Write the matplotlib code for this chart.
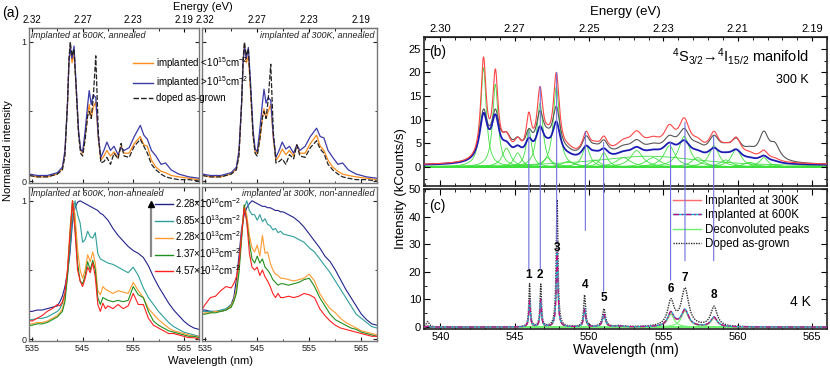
import numpy as np
import matplotlib.pyplot as plt
from matplotlib.lines import Line2D
from matplotlib.patches import ConnectionPatch
from matplotlib.ticker import MultipleLocator, FixedLocator
from matplotlib.legend_handler import HandlerTuple

plt.rcParams['font.family'] = ['Liberation Sans', 'DejaVu Sans']
plt.rcParams['mathtext.fontset'] = 'custom'
plt.rcParams['mathtext.rm'] = 'Liberation Sans'
plt.rcParams['mathtext.it'] = 'Liberation Sans:italic'
plt.rcParams['mathtext.bf'] = 'Liberation Sans:bold'
plt.rcParams['xtick.direction'] = 'in'
plt.rcParams['ytick.direction'] = 'in'

# ---------------- panel (a) data ----------------
wl_ann = [534.5, 536, 538, 540, 541, 541.5, 542, 542.3, 542.55, 542.9, 543.3, 543.7, 544.2, 544.6,
          545.0, 545.5, 546.0, 546.3, 546.7, 547.1, 547.6, 548.1, 548.6, 549.2, 549.8, 550.5, 551.2,
          552.0, 552.6, 553.2, 554.2, 555.2, 556.4, 557.1, 557.8, 558.6, 559.5, 560.5, 561.4, 562.5,
          564, 566, 568]
tl_low = [0.04, 0.03, 0.03, 0.05, 0.09, 0.2, 0.55, 0.85, 0.97, 0.85, 0.92, 0.68, 0.35, 0.22,
          0.2, 0.32, 0.48, 0.55, 0.45, 0.53, 0.57, 0.3, 0.15, 0.18, 0.22, 0.18, 0.21,
          0.17, 0.25, 0.2, 0.2, 0.27, 0.32, 0.26, 0.25, 0.15, 0.1, 0.07, 0.06, 0.04,
          0.03, 0.02, 0.01]
tl_high = [0.05, 0.04, 0.04, 0.06, 0.1, 0.22, 0.55, 0.85, 0.96, 0.88, 0.97, 0.7, 0.36, 0.23,
           0.21, 0.36, 0.55, 0.65, 0.55, 0.62, 0.6, 0.32, 0.17, 0.22, 0.28, 0.22, 0.25,
           0.19, 0.24, 0.22, 0.24, 0.32, 0.4, 0.33, 0.3, 0.22, 0.18, 0.12, 0.13, 0.08,
           0.05, 0.03, 0.02]
tl_doped = [0.04, 0.03, 0.03, 0.05, 0.08, 0.18, 0.55, 0.88, 1.0, 0.9, 0.95, 0.68, 0.33, 0.2,
            0.18, 0.3, 0.47, 0.5, 0.45, 0.6, 0.9, 0.35, 0.13, 0.14, 0.17, 0.12, 0.2,
            0.16, 0.27, 0.18, 0.17, 0.25, 0.3, 0.25, 0.2, 0.12, 0.08, 0.05, 0.03, 0.02,
            0.01, 0.01, 0.0]
tr_low = [0.04, 0.03, 0.03, 0.05, 0.09, 0.2, 0.55, 0.86, 0.98, 0.85, 0.9, 0.66, 0.33, 0.21,
          0.2, 0.3, 0.45, 0.52, 0.45, 0.5, 0.55, 0.3, 0.15, 0.18, 0.23, 0.19, 0.22,
          0.18, 0.26, 0.2, 0.2, 0.27, 0.33, 0.25, 0.22, 0.15, 0.1, 0.07, 0.05, 0.04,
          0.03, 0.02, 0.01]
tr_high = [0.05, 0.04, 0.04, 0.06, 0.1, 0.22, 0.56, 0.86, 0.97, 0.88, 0.96, 0.72, 0.37, 0.23,
           0.21, 0.37, 0.56, 0.66, 0.56, 0.6, 0.58, 0.32, 0.17, 0.22, 0.28, 0.23, 0.25,
           0.2, 0.26, 0.22, 0.25, 0.32, 0.38, 0.32, 0.31, 0.22, 0.17, 0.12, 0.13, 0.08,
           0.05, 0.03, 0.02]
tr_doped = [0.04, 0.03, 0.03, 0.05, 0.08, 0.18, 0.55, 0.88, 1.0, 0.9, 0.95, 0.68, 0.33, 0.2,
            0.18, 0.3, 0.46, 0.5, 0.45, 0.58, 0.84, 0.35, 0.13, 0.14, 0.16, 0.12, 0.19,
            0.16, 0.26, 0.18, 0.17, 0.24, 0.29, 0.23, 0.2, 0.12, 0.08, 0.05, 0.03, 0.02,
            0.01, 0.01, 0.0]

wl_na = [534.2, 535, 536, 537, 538, 539, 540, 540.5, 541, 541.5, 542, 542.5, 543, 543.5, 544,
         544.5, 545, 545.5, 546, 546.5, 547, 547.5, 548, 548.5, 549, 549.5, 550, 551, 552, 553,
         554, 555, 556, 557, 558, 559, 560, 561, 562, 563, 564, 565, 566, 567, 568]
bl_d1 = [0.2, 0.2, 0.21, 0.21, 0.22, 0.23, 0.24, 0.27, 0.31, 0.38, 0.48, 0.62, 0.85, 0.95, 0.99,
         1.0, 0.99, 0.98, 0.97, 0.96, 0.95, 0.94, 0.93, 0.91, 0.9, 0.88, 0.86, 0.8, 0.75, 0.71,
         0.67, 0.64, 0.62, 0.59, 0.53, 0.45, 0.38, 0.32, 0.26, 0.21, 0.17, 0.13, 0.1, 0.08, 0.07]
bl_d2 = [0.14, 0.14, 0.15, 0.15, 0.16, 0.18, 0.2, 0.22, 0.26, 0.33, 0.45, 0.65, 0.9, 1.0, 0.9,
         0.84, 0.7, 0.72, 0.78, 0.74, 0.73, 0.77, 0.62, 0.58, 0.57, 0.56, 0.55, 0.54, 0.52, 0.5,
         0.48, 0.52, 0.46, 0.37, 0.3, 0.25, 0.2, 0.16, 0.12, 0.09, 0.07, 0.05, 0.04, 0.03, 0.02]
bl_d3 = [0.11, 0.11, 0.12, 0.12, 0.13, 0.15, 0.17, 0.19, 0.22, 0.3, 0.5, 0.8, 1.0, 0.9, 0.65,
         0.5, 0.44, 0.5, 0.61, 0.56, 0.63, 0.55, 0.35, 0.32, 0.38, 0.36, 0.35, 0.33, 0.35, 0.34,
         0.33, 0.41, 0.35, 0.3, 0.22, 0.18, 0.14, 0.11, 0.08, 0.06, 0.05, 0.04, 0.03, 0.02, 0.02]
bl_d4 = [0.1, 0.1, 0.11, 0.11, 0.12, 0.14, 0.16, 0.18, 0.2, 0.27, 0.45, 0.75, 1.0, 0.8, 0.55,
         0.42, 0.4, 0.46, 0.56, 0.5, 0.57, 0.5, 0.3, 0.25, 0.3, 0.29, 0.28, 0.27, 0.28, 0.27,
         0.28, 0.38, 0.32, 0.3, 0.2, 0.13, 0.1, 0.08, 0.06, 0.05, 0.04, 0.03, 0.02, 0.02, 0.01]
bl_d5 = [0.14, 0.13, 0.15, 0.17, 0.2, 0.22, 0.25, 0.24, 0.27, 0.33, 0.5, 0.75, 1.0, 0.78, 0.5,
         0.42, 0.38, 0.44, 0.52, 0.48, 0.55, 0.45, 0.25, 0.2, 0.26, 0.22, 0.24, 0.22, 0.25, 0.22,
         0.24, 0.33, 0.25, 0.25, 0.15, 0.1, 0.08, 0.06, 0.04, 0.04, 0.03, 0.02, 0.01, 0.01, 0.0]
br_d1 = [0.21, 0.21, 0.2, 0.2, 0.2, 0.21, 0.25, 0.3, 0.43, 0.6, 0.8, 0.9, 0.95, 0.98, 1.0,
         0.99, 0.98, 0.97, 0.96, 0.96, 0.95, 0.95, 0.94, 0.93, 0.93, 0.92, 0.92, 0.9, 0.88, 0.85,
         0.81, 0.76, 0.71, 0.66, 0.6, 0.56, 0.5, 0.43, 0.36, 0.3, 0.24, 0.18, 0.14, 0.11, 0.1]
br_d2 = [0.2, 0.2, 0.2, 0.2, 0.21, 0.22, 0.25, 0.28, 0.36, 0.52, 0.75, 0.95, 1.0, 0.93, 0.9,
         0.9, 0.86, 0.9, 0.85, 0.87, 0.83, 0.82, 0.79, 0.8, 0.77, 0.78, 0.76, 0.75, 0.74, 0.72,
         0.7, 0.66, 0.63, 0.58, 0.53, 0.48, 0.42, 0.36, 0.3, 0.24, 0.18, 0.15, 0.12, 0.09, 0.08]
br_d3 = [0.18, 0.19, 0.19, 0.2, 0.2, 0.21, 0.24, 0.28, 0.36, 0.52, 0.75, 0.97, 0.9, 0.75, 0.66,
         0.63, 0.68, 0.6, 0.75, 0.62, 0.63, 0.55, 0.5, 0.47, 0.46, 0.44, 0.44, 0.43, 0.42, 0.43,
         0.44, 0.47, 0.42, 0.33, 0.27, 0.22, 0.19, 0.15, 0.12, 0.1, 0.08, 0.06, 0.05, 0.04, 0.03]
br_d4 = [0.18, 0.18, 0.19, 0.19, 0.2, 0.21, 0.23, 0.27, 0.33, 0.48, 0.72, 0.97, 0.85, 0.7, 0.58,
         0.55, 0.6, 0.55, 0.58, 0.52, 0.5, 0.47, 0.43, 0.41, 0.39, 0.4, 0.4, 0.39, 0.4, 0.41,
         0.43, 0.44, 0.38, 0.3, 0.24, 0.18, 0.14, 0.12, 0.1, 0.08, 0.07, 0.05, 0.04, 0.03, 0.02]
br_d5 = [0.2, 0.25, 0.3, 0.31, 0.35, 0.38, 0.37, 0.4, 0.45, 0.55, 0.75, 0.95, 0.85, 0.62, 0.52,
         0.5, 0.52, 0.46, 0.5, 0.45, 0.42, 0.38, 0.33, 0.3, 0.33, 0.3, 0.3, 0.31, 0.3, 0.31,
         0.33, 0.32, 0.3, 0.22, 0.17, 0.13, 0.1, 0.08, 0.07, 0.06, 0.05, 0.04, 0.03, 0.02, 0.02]

a_ticks = [535, 545, 555, 565]
a_energy_labels = ['2.32', '2.27', '2.23', '2.19']
dose_labels = [r'2.28$\times$10$^{16}$cm$^{-2}$', r'6.85$\times$10$^{13}$cm$^{-2}$',
               r'2.28$\times$10$^{13}$cm$^{-2}$', r'1.37$\times$10$^{13}$cm$^{-2}$',
               r'4.57$\times$10$^{12}$cm$^{-2}$']
dose_colors = ['#23238e', '#2e9e9a', '#ff9a2e', '#1f8f1f', '#ff2020']

# ---------------- panel (b) data: 300 K peaks (centre, half width, height) ----------------
b_pk_wl = [542.9, 543.7, 544.45, 545.2, 545.95, 546.7, 547.2, 547.8, 548.6, 549.8, 550.4, 551.0,
           552.3, 553.2, 554.3, 555.4, 556.4, 557.3, 558.4, 559.2, 559.9, 560.8, 561.75, 562.5, 554.0]
b_hw_red = [0.22, 0.22, 0.35, 0.3, 0.22, 0.25, 0.3, 0.25, 0.5, 0.3, 0.4, 0.3, 0.6, 0.5, 0.6,
            0.45, 0.45, 0.5, 0.4, 0.5, 0.4, 0.5, 0.35, 0.4, 4.5]
b_red = [21, 17.5, 4, 3, 8, 13.5, 2, 17, 1.2, 4.5, 1.5, 3, 2, 3.5, 2, 4.5, 6.5, 2, 4.5, 1.5,
         3.8, 1, 2, 0.5, 2.3]
b_hw_wide = [0.32, 0.32, 0.4, 0.35, 0.3, 0.32, 0.35, 0.32, 0.5, 0.35, 0.4, 0.35, 0.6, 0.5, 0.6,
             0.5, 0.5, 0.5, 0.45, 0.5, 0.45, 0.5, 0.4, 0.4, 4.5]
b_blue = [9.5, 8.5, 2.5, 2, 3.5, 6, 1.5, 7.5, 0.6, 2.6, 0.8, 1.8, 1, 1.8, 1, 2.5, 3.3, 1, 2.2,
          0.8, 2.2, 0.5, 1.4, 0.3, 1.3]
b_gray = [10, 9, 4, 3, 4.5, 8.5, 2, 10, 0.8, 4, 1.2, 2.8, 1.5, 2.5, 1.5, 3, 5, 1.5, 4, 1.5,
          3.5, 1.5, 5.5, 3, 1.7]
b_base = 0.25

# ---------------- panel (c) data: 4 K peaks ----------------
c_pk_wl = [539.15, 546.0, 546.75, 547.85, 549.7, 551.0, 552.0, 555.5, 556.45, 558.4]
c_pk_hw = [0.12, 0.06, 0.06, 0.07, 0.08, 0.12, 0.3, 0.26, 0.3, 0.26]
c_doped = [2.0, 15.5, 15.3, 46.0, 11.5, 6.5, 0.4, 9.0, 13.5, 7.2]
c_imp300 = [0.3, 9.0, 9.3, 25.5, 6.2, 4.2, 0.3, 4.7, 5.7, 3.2]
c_imp600 = [0.3, 9.6, 9.8, 27.0, 6.7, 4.5, 0.3, 5.1, 6.1, 3.5]

bc_ticks = [540, 545, 550, 555, 560, 565]
bc_energy_labels = ['2.30', '2.27', '2.25', '2.23', '2.21', '2.19']

link_wl = [545.95, 546.72, 547.82, 549.75, 550.98, 555.48, 556.45, 558.38]
link_top = [7.5, 17.0, 20.0, 7.5, 5.2, 5.3, 9.5, 6.5]
link_bot = [21.0, 21.0, 31.0, 35.0, 13.0, 17.0, 24.0, 24.0]
peak_names = ['1', '2', '3', '4', '5', '6', '7', '8']
peak_label_y = [19.0, 19.0, 28.8, 15.4, 10.5, 13.7, 17.9, 11.6]

W, H = 830, 369
fig = plt.figure(figsize=(W / 100, H / 100), dpi=100)


def px_axes(l, t, r, b):
    return fig.add_axes([l / W, 1 - b / H, (r - l) / W, (b - t) / H])


def lorentz(x, c, a, w):
    return a / (1 + ((x - c) / w) ** 2)


def spectrum(x, centres, heights, widths, base=0.0):
    return base + sum(lorentz(x, c, a, w) for c, a, w in zip(centres, heights, widths))


def style_a(ax, left_labels):
    ax.set_xlim(534.4, 568)
    ax.set_ylim(-0.014, 1.1)
    ax.set_xticks(a_ticks)
    ax.xaxis.set_minor_locator(MultipleLocator(5))
    ax.set_yticks([0, 1])
    ax.yaxis.set_minor_locator(FixedLocator([0.5]))
    ax.tick_params(which='both', top=True, right=True, labelsize=6.5, pad=2, colors='#222222')
    ax.tick_params(which='major', length=3)
    ax.tick_params(which='minor', length=1.8)
    if not left_labels:
        ax.set_yticklabels([])
    for s in ax.spines.values():
        s.set_color('#777777')
        s.set_linewidth(1.0)


def energy_top(ax, ticks, labels, size, minor):
    sec = ax.secondary_xaxis('top')
    sec.set_xticks(ticks, labels=labels)
    sec.xaxis.set_minor_locator(MultipleLocator(minor))
    sec.tick_params(which='both', direction='in', labelsize=size, pad=2)
    sec.tick_params(which='major', length=3)
    sec.tick_params(which='minor', length=1.8)
    ax.tick_params(which='both', top=False)
    return sec


# ---- (a) four panels ----
ax_tl = px_axes(29, 28, 199, 183)
ax_tr = px_axes(202, 28, 377, 183)
ax_bl = px_axes(29, 187, 199, 341)
ax_br = px_axes(202, 187, 377, 341)

for ax, lo, hi, dp in [(ax_tl, tl_low, tl_high, tl_doped), (ax_tr, tr_low, tr_high, tr_doped)]:
    ax.plot(wl_ann, lo, color='#ff8c1a', lw=0.9)
    ax.plot(wl_ann, hi, color='#3a3aa8', lw=0.9)
    ax.plot(wl_ann, dp, color='#222222', lw=0.9, ls=(0, (4, 1.5)))

for ax, curves in [(ax_bl, [bl_d1, bl_d2, bl_d3, bl_d4, bl_d5]),
                   (ax_br, [br_d1, br_d2, br_d3, br_d4, br_d5])]:
    for y, c in zip(curves, dose_colors):
        ax.plot(wl_na, y, color=c, lw=0.8)

style_a(ax_tl, True)
style_a(ax_tr, False)
style_a(ax_bl, True)
style_a(ax_br, False)
ax_tl.set_xticklabels([])
ax_tr.set_xticklabels([])
energy_top(ax_tl, a_ticks, a_energy_labels, 7, 5)
energy_top(ax_tr, a_ticks, a_energy_labels, 7, 5)

it = dict(fontsize=6.5, style='italic', color='#222222', va='center')
ax_tl.text(0.01, 0.95, 'implanted at 600K, annealed', transform=ax_tl.transAxes, ha='left', **it)
ax_tr.text(0.985, 0.95, 'implanted at 300K, annealed', transform=ax_tr.transAxes, ha='right', **it)
ax_bl.text(0.01, 0.955, 'implanted at 600K, non-annealed', transform=ax_bl.transAxes, ha='left', **it)
ax_br.text(0.985, 0.955, 'implanted at 300K, non-annealed', transform=ax_br.transAxes, ha='right', **it)

fig.text(2 / W, 1 - 13 / H, '(a)', fontsize=10, va='center', ha='left')
fig.text(203 / W, 1 - 7 / H, 'Energy (eV)', fontsize=8, va='center', ha='center')
fig.text(210 / W, 1 - 361 / H, 'Wavelength (nm)', fontsize=8, va='center', ha='center')
fig.text(8 / W, 1 - 151 / H, 'Normalized intensity', fontsize=8, va='center', ha='center', rotation=90)

h_ann = [Line2D([], [], color='#ff8c1a', lw=1), Line2D([], [], color='#3a3aa8', lw=1),
         Line2D([], [], color='#222222', lw=1, ls=(0, (4, 1.5)))]
fig.legend(h_ann, [r'implanted <10$^{15}$cm$^{-2}$', r'implanted >10$^{15}$cm$^{-2}$', 'doped as-grown'],
           loc='upper left', bbox_to_anchor=(133 / W, 1 - 55 / H), frameon=False, fontsize=7,
           handlelength=2.1, handletextpad=0.3, labelspacing=0.35, borderpad=0, borderaxespad=0)
h_dose = [Line2D([], [], color=c, lw=1) for c in dose_colors]
fig.legend(h_dose, dose_labels, loc='upper left', bbox_to_anchor=(155 / W, 1 - 196 / H),
           frameon=False, fontsize=7, handlelength=1.9, handletextpad=0.2, labelspacing=0.3,
           borderpad=0, borderaxespad=0)
fig.add_artist(Line2D([151 / W, 151 / W], [1 - 256 / H, 1 - 206 / H], transform=fig.transFigure,
                      color='#888888', lw=1.6))
fig.add_artist(Line2D([151 / W], [1 - 204 / H], transform=fig.transFigure, marker='^',
                      color='black', markersize=4.5, lw=0))

# ---- (b) ----
ax_b = px_axes(424, 37, 827, 186)
ax_c = px_axes(424, 189, 827, 329)
xb = np.arange(538.8, 566.1, 0.01)
red = spectrum(xb, b_pk_wl, b_red, b_hw_red, b_base)
gray = spectrum(xb, b_pk_wl, b_gray, b_hw_wide, b_base)
blue = spectrum(xb, b_pk_wl, b_blue, b_hw_wide, b_base)
for c, a, w in zip(b_pk_wl, b_red, b_hw_red):
    ax_b.plot(xb, lorentz(xb, c, a, w), color='#3ee03e', lw=0.6, zorder=1)
ax_b.plot(xb, gray, color='#555555', lw=0.8, zorder=2)
ax_b.plot(xb, blue, color='#1c1cb4', lw=1.3, zorder=3)
ax_b.plot(xb, red, color='#ff4545', lw=0.8, zorder=4)

ax_b.set_ylim(-4, 27.5)
ax_b.set_yticks([0, 5, 10, 15, 20, 25])
ax_b.yaxis.set_minor_locator(MultipleLocator(2.5))

# ---- (c) ----
for c, a, w in zip(c_pk_wl, c_imp300, c_pk_hw):
    ax_c.plot(xb, lorentz(xb, c, a, w), color='#70f070', lw=0.8, zorder=1)
doped = spectrum(xb, c_pk_wl, c_doped, c_pk_hw)
imp3 = spectrum(xb, c_pk_wl, c_imp300, c_pk_hw)
imp6 = spectrum(xb, c_pk_wl, c_imp600, c_pk_hw)
ax_c.plot(xb, doped, color='#303030', lw=1.0, ls=(0, (1, 0.8)), zorder=2)
ax_c.plot(xb, imp3, color='#ff6a6a', lw=0.9, zorder=3)
ax_c.plot(xb, imp6, color='#12b5d8', lw=0.9, zorder=4)
ax_c.plot(xb, imp6, color='#c01080', lw=0.9, ls=(0, (4, 2, 1, 2)), zorder=5)
ax_c.set_ylim(-0.7, 50)
ax_c.set_yticks([0, 10, 20, 30, 40, 50])
ax_c.yaxis.set_minor_locator(MultipleLocator(5))

for ax in (ax_b, ax_c):
    ax.set_xlim(538.9, 566.0)
    ax.set_xticks(bc_ticks)
    ax.xaxis.set_minor_locator(MultipleLocator(1))
    ax.tick_params(which='both', top=True, right=True, labelsize=8, pad=2)
    ax.tick_params(which='major', length=4)
    ax.tick_params(which='minor', length=2.2)
    for s in ax.spines.values():
        s.set_color('#222222')
        s.set_linewidth(1.2)
ax_b.set_xticklabels([])
energy_top(ax_b, bc_ticks, bc_energy_labels, 8, 1)
ax_c.set_xlabel('Wavelength (nm)', fontsize=10, labelpad=1)

for x, yt, yb in zip(link_wl, link_top, link_bot):
    con = ConnectionPatch(xyA=(x, yt), coordsA=ax_b.transData, xyB=(x, yb), coordsB=ax_c.transData,
                          color='#7070e0', lw=0.8, zorder=6)
    fig.add_artist(con)
for x, y, n in zip(link_wl, peak_label_y, peak_names):
    ax_c.text(x, y, n, fontsize=8.5, fontweight='bold', ha='center', va='center', zorder=7)

ax_b.text(0.012, 0.9, '(b)', transform=ax_b.transAxes, fontsize=10, va='center')
ax_b.text(0.955, 0.87, r'$^4$S$_{3/2}$→$^4$I$_{15/2}$ manifold', transform=ax_b.transAxes,
          fontsize=10.5, ha='right', va='center')
ax_b.text(0.955, 0.71, '300 K', transform=ax_b.transAxes, fontsize=9, ha='right', va='center')
ax_c.text(0.012, 0.88, '(c)', transform=ax_c.transAxes, fontsize=10, va='center')
ax_c.text(0.96, 0.19, '4 K', transform=ax_c.transAxes, fontsize=10, ha='right', va='center')

fig.text(625 / W, 1 - 12 / H, 'Energy (eV)', fontsize=9.5, ha='center', va='center')
fig.text(401 / W, 1 - 189 / H, 'Intensity (kCounts/s)', fontsize=9.5, ha='center', va='center',
         rotation=90)

h_c = [Line2D([], [], color='#ff6a6a', lw=1), (Line2D([], [], color='#12b5d8', lw=1),
       Line2D([], [], color='#c01080', lw=1, ls=(0, (4, 2, 1, 2)))),
       Line2D([], [], color='#70f070', lw=1), Line2D([], [], color='#303030', lw=1, ls=(0, (1, 0.8)))]
fig.legend(h_c, ['Implanted at 300K', 'Implanted at 600K', 'Deconvoluted peaks', 'Doped as-grown'],
           handler_map={tuple: HandlerTuple(ndivide=1, pad=0)},
           loc='upper left', bbox_to_anchor=(673 / W, 1 - 195 / H), frameon=False, fontsize=8.3,
           handlelength=2.4, handletextpad=0.35, labelspacing=0.2, borderpad=0, borderaxespad=0)

fig.savefig('out.png', dpi=100)
